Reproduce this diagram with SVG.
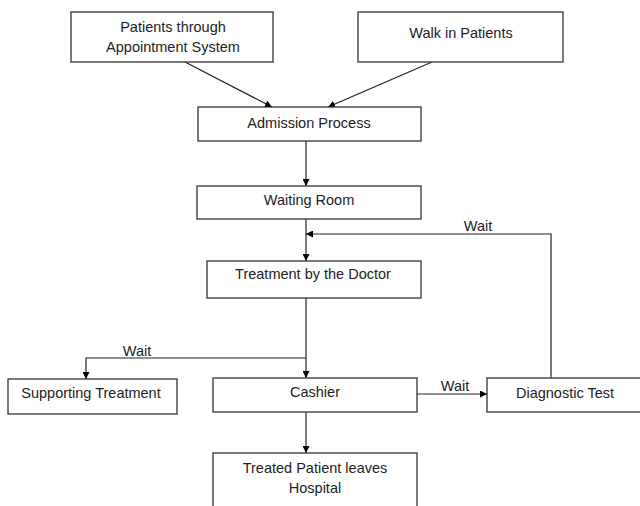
<svg xmlns="http://www.w3.org/2000/svg" width="640" height="506" viewBox="0 0 640 506">
<defs>
<marker id="ah" viewBox="0 0 10 10" refX="10" refY="5" markerWidth="7" markerHeight="7" markerUnits="userSpaceOnUse" orient="auto">
<path d="M0,0 L10,5 L0,10 Z" fill="#000"/>
</marker>
</defs>
<style>
.box{fill:#fff;stroke:#333;stroke-width:1.3}
.lbl{font-family:"Liberation Sans",Arial,sans-serif;font-size:14.5px;fill:#222;text-anchor:middle}
.ln{fill:none;stroke:#222;stroke-width:1.2}
</style>
<rect width="640" height="506" fill="#fff"/>
<g id="connectors">
<path class="ln" d="M185,62 L272,107" marker-end="url(#ah)"/>
<path class="ln" d="M432,62 L328,107" marker-end="url(#ah)"/>
<path class="ln" d="M306,141 L306,186" marker-end="url(#ah)"/>
<path class="ln" d="M306,219 L306,261" marker-end="url(#ah)"/>
<path class="ln" d="M551,378 L551,234 L306,234" marker-end="url(#ah)"/>
<path class="ln" d="M306,298 L306,378" marker-end="url(#ah)"/>
<path class="ln" d="M306,358 L86,358 L86,379" marker-end="url(#ah)"/>
<path class="ln" d="M417,394 L487,394" marker-end="url(#ah)"/>
<path class="ln" d="M306,412 L306,453" marker-end="url(#ah)"/>
<text class="lbl" x="478" y="231">Wait</text>
<text class="lbl" x="137" y="356">Wait</text>
<text class="lbl" x="455" y="391">Wait</text>
</g>
<g id="appointment">
<rect class="box" x="71" y="12" width="202" height="50"/>
<text class="lbl" x="173" y="32">Patients through</text>
<text class="lbl" x="173" y="52">Appointment System</text>
</g>
<g id="walkin">
<rect class="box" x="358" y="12" width="205" height="50"/>
<text class="lbl" x="461" y="38">Walk in Patients</text>
</g>
<g id="admission">
<rect class="box" x="198" y="107" width="223" height="34"/>
<text class="lbl" x="309" y="128">Admission Process</text>
</g>
<g id="waiting">
<rect class="box" x="197" y="186" width="224" height="33"/>
<text class="lbl" x="309" y="205">Waiting Room</text>
</g>
<g id="treatment">
<rect class="box" x="207" y="261" width="214" height="37"/>
<text class="lbl" x="313" y="279">Treatment by the Doctor</text>
</g>
<g id="supporting">
<rect class="box" x="8" y="379" width="169" height="35"/>
<text class="lbl" x="91" y="398">Supporting Treatment</text>
</g>
<g id="cashier">
<rect class="box" x="213" y="378" width="204" height="34"/>
<text class="lbl" x="315" y="397">Cashier</text>
</g>
<g id="diagnostic">
<rect class="box" x="487" y="378" width="158" height="34"/>
<text class="lbl" x="565" y="398">Diagnostic Test</text>
</g>
<g id="leaves">
<rect class="box" x="213" y="453" width="204" height="60"/>
<text class="lbl" x="315" y="473">Treated Patient leaves</text>
<text class="lbl" x="315" y="493">Hospital</text>
</g>
</svg>
